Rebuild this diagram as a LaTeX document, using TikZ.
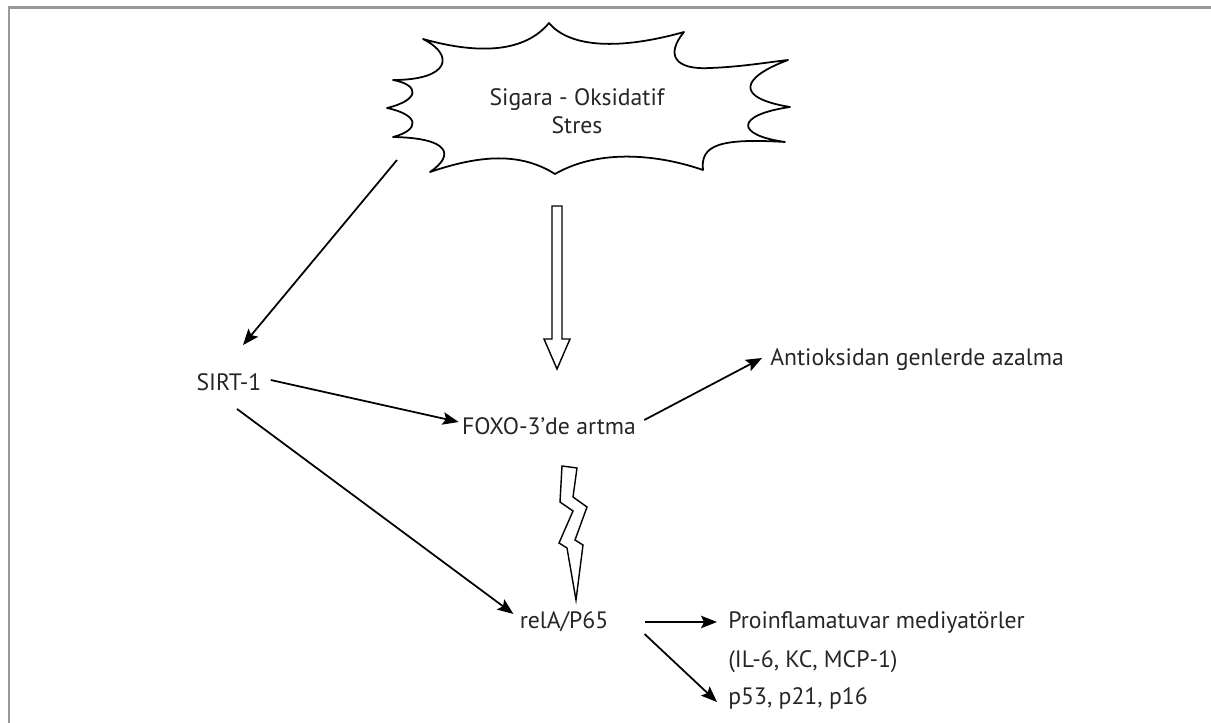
\documentclass[tikz,border=0pt]{standalone}
\usepackage{fontspec}
\setmainfont{PT Sans}
\usetikzlibrary{arrows.meta,calc}
\begin{document}
\begin{tikzpicture}[x=0.02cm,y=-0.02cm,
  lbl/.style={inner sep=0pt,font=\fontsize{13.5}{16}\selectfont,text=black!85},
  arr/.style={line width=1pt,-{Stealth[length=0.32cm,width=0.25cm,inset=0.06cm]}},
  outl/.style={line width=1pt,line join=round}]
\useasboundingbox (0,0) rectangle (1211,723);
% frame
\draw[line width=0.6mm,black!40] (9,723) -- (9,8) -- (1211,8);
% star
\draw[outl] (423,39) .. controls (480,55) and (525,52) .. (549,23)
  .. controls (570,48) and (620,50) .. (684,32)
  .. controls (665,55) and (675,70) .. (710,68)
  .. controls (740,67) and (770,62) .. (788,60)
  .. controls (740,78) and (735,98) .. (790,107)
  .. controls (735,115) and (735,135) .. (785,142)
  .. controls (720,138) and (700,145) .. (703,170)
  .. controls (660,155) and (600,148) .. (555,174)
  .. controls (520,152) and (480,155) .. (430,172)
  .. controls (455,155) and (450,138) .. (393,137)
  .. controls (420,130) and (420,115) .. (387,108)
  .. controls (420,100) and (420,85) .. (393,80)
  .. controls (450,80) and (455,55) .. (423,39) -- cycle;
\node[lbl,align=center] (stress) at (577,111) {Sigara - Oksidatif\\Stres};
\coordinate (starfoot) at (397,160);
% hollow arrow
\draw[line width=0.8pt,line join=miter] (552,206) -- (562,206) -- (562,339) -- (570,339) -- (557,369) -- (544,339) -- (552,339) -- cycle;
% labels
\node[lbl] (sirt) at (229,382) {SIRT-1};
\node[lbl] (foxo) at (549,426) {FOXO-3’de artma};
\node[lbl,anchor=west] (anti) at (770,360) {Antioksidan genlerde azalma};
\node[lbl] (rela) at (564,622) {relA/P65};
\node[lbl,anchor=west] (pro) at (728,622) {Proinflamatuvar mediyatörler};
\node[lbl,anchor=west] (il) at (728,662) {(IL-6, KC, MCP-1)};
\node[lbl,anchor=west] (p53) at (728,698) {p53, p21, p16};
% lightning
\draw[line width=0.8pt,line join=miter] (562,466) -- (577,468) -- (573,497) -- (587,507) -- (575,540) -- (583,545) -- (576,600) -- (567,548) -- (559,543) -- (573,511) -- (560,502) -- cycle;
% arrows
\draw[arr] (starfoot) -- ($(sirt.north)+(14,-28)$);
\draw[arr] ($(sirt.east)+(9,-2)$) -- ($(foxo.west)+(-3,-4)$);
\draw[arr] ($(sirt.south)+(8,18)$) -- ($(rela.west)+(-6,-8)$);
\draw[arr] ($(foxo.east)+(8,-6)$) -- ($(anti.west)+(-8,-2)$);
\draw[arr] ($(rela.east)+(36,0)$) -- ($(pro.west)+(-11,0)$);
\draw[arr] ($(rela.east)+(36,12)$) -- ($(p53.west)+(-11,4)$);
\end{tikzpicture}
\end{document}
